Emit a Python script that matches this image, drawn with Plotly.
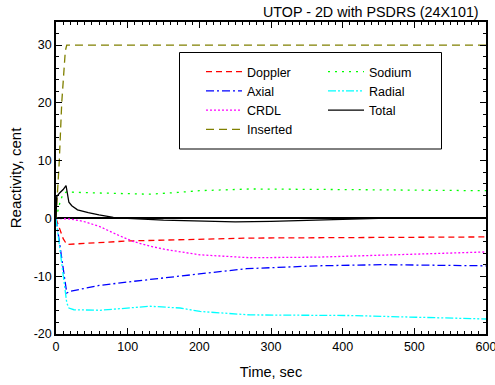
import plotly.graph_objects as go

# ---- data ----
t_doppler = [0, 3, 6, 10, 15, 30, 50, 100, 150, 200, 270, 350, 400, 500, 600]
v_doppler = [0, -1.0, -2.2, -3.5, -4.5, -4.4, -4.2, -3.9, -3.75, -3.6, -3.4, -3.35, -3.3, -3.25, -3.2]

t_sodium = [0, 3, 6, 10, 15, 30, 60, 100, 130, 170, 200, 270, 330, 400, 500, 600]
v_sodium = [0, 1.5, 3.0, 4.3, 4.6, 4.5, 4.4, 4.3, 4.2, 4.5, 4.8, 5.1, 5.1, 5.0, 4.9, 4.8]

t_axial = [0, 15, 20, 60, 100, 131, 200, 266, 300, 364, 457, 540, 600]
v_axial = [0, -12.9, -12.6, -11.6, -11.0, -10.6, -9.6, -8.7, -8.5, -8.2, -8.0, -8.1, -8.2]

t_radial = [0, 10, 15, 18, 25, 61, 100, 131, 173, 201, 271, 350, 410, 503, 596, 600]
v_radial = [0, -9.5, -14.6, -15.5, -15.8, -15.9, -15.5, -15.2, -15.5, -16.1, -16.7, -16.8, -16.8, -17.1, -17.4, -17.4]

t_crdl = [0, 20, 38, 61, 85, 108, 131, 154, 201, 271, 364, 457, 540, 600]
v_crdl = [0, -0.1, -0.5, -1.4, -2.8, -4.0, -4.8, -5.4, -6.3, -6.8, -6.7, -6.3, -6.0, -5.8]

t_total = [0, 1, 5, 10, 14, 16, 18, 22, 30, 45, 60, 80, 100, 150, 200, 250, 300, 350, 400, 450, 600]
v_total = [0, 3.8, 4.4, 5.0, 5.7, 4.0, 2.8, 2.2, 1.5, 1.0, 0.6, 0.2, 0.0, -0.3, -0.5, -0.6, -0.5, -0.3, -0.1, 0.0, 0.0]

t_inserted = [0, 2, 4.6, 8, 11, 13, 15, 600]
v_inserted = [0, 4, 10, 20, 26, 29, 30, 30]

x_ticks = [0, 100, 200, 300, 400, 500, 600]
y_ticks = [-20, -10, 0, 10, 20, 30]

FONT = "Liberation Sans, Arial, sans-serif"

# name, x, y, colour, dash, legend column
series = [
    ("Doppler", t_doppler, v_doppler, "#FF0000", "6px,4px", "legend"),
    ("Axial", t_axial, v_axial, "#0000FF", "8px,3px,2px,3px", "legend"),
    ("CRDL", t_crdl, v_crdl, "#FF00FF", "2px,2px", "legend"),
    ("Inserted", t_inserted, v_inserted, "#808000", "8px,5px", "legend"),
    ("Sodium", t_sodium, v_sodium, "#00FF00", "2px,5px", "legend2"),
    ("Radial", t_radial, v_radial, "#00FFFF", "8px,2px,2px,2px,2px,2px", "legend2"),
    ("Total", t_total, v_total, "#000000", "solid", "legend2"),
]

fig = go.Figure()
for name, tx, vy, col, dash, lg in series:
    fig.add_trace(go.Scatter(
        x=tx, y=vy, mode="lines", name=name, legend=lg,
        line=dict(color=col, width=1.3, dash=dash),
    ))

axis_common = dict(
    showline=True, linecolor="black", linewidth=1.5, mirror="ticks",
    ticks="inside", ticklen=6, tickwidth=1, tickcolor="black",
    showgrid=False, automargin=False,
    tickfont=dict(family=FONT, size=12.5, color="black"),
)

fig.update_xaxes(
    range=[0, 600], tickvals=x_ticks, ticktext=[str(v) for v in x_ticks],
    zeroline=False, ticklabeloverflow="allow",
    minor=dict(dtick=10, ticks="inside", ticklen=3, tickcolor="black", showgrid=False),
    title=dict(text="Time, sec", font=dict(family=FONT, size=14.5, color="black"), standoff=14),
    **axis_common,
)
fig.update_yaxes(
    range=[-20, 34], tickvals=y_ticks, ticktext=[str(v) for v in y_ticks],
    zeroline=True, zerolinecolor="black", zerolinewidth=1.5,
    minor=dict(dtick=2, ticks="inside", ticklen=3, tickcolor="black", showgrid=False),
    title=dict(text="Reactivity, cent", font=dict(family=FONT, size=15, color="black"), standoff=8),
    **axis_common,
)

L, R, T, B, W, H = 56, 9, 22, 51, 495, 385
pw, ph = W - L - R, H - T - B

def px_x(p):
    return (p - L) / pw

def px_y(p):
    return (H - B - p) / ph

legend_common = dict(
    orientation="v", xanchor="left", yanchor="top",
    bgcolor="rgba(0,0,0,0)", borderwidth=0,
    font=dict(family=FONT, size=12.5, color="black"),
    itemwidth=36, tracegroupgap=0,
)

fig.update_layout(
    width=W, height=H,
    margin=dict(l=L, r=R, t=T, b=B),
    paper_bgcolor="white", plot_bgcolor="white",
    font=dict(family=FONT, size=13, color="black"),
    showlegend=True,
    legend=dict(x=px_x(201), y=px_y(57), **legend_common),
    legend2=dict(x=px_x(323), y=px_y(57), **legend_common),
    shapes=[dict(
        type="rect", xref="paper", yref="paper",
        x0=px_x(179.5), x1=px_x(441.5), y0=px_y(149), y1=px_y(52.5),
        line=dict(color="black", width=1), fillcolor="white", layer="above",
    )],
    annotations=[dict(
        text="UTOP - 2D with PSDRS (24X101)", xref="paper", yref="paper",
        x=1, y=1, xanchor="right", yanchor="bottom", showarrow=False,
        font=dict(family=FONT, size=14.3, color="black"), yshift=0, xshift=-5,
    )],
)

fig.write_html("out.html", config={"displayModeBar": False},
               post_script="document.body.style.margin='0';")
